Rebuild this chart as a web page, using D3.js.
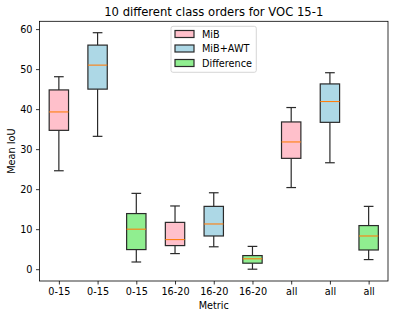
<!DOCTYPE html>
<html><head><meta charset="utf-8">
<script src="https://cdn.jsdelivr.net/npm/d3@7"></script>
<style>body{margin:0;background:#fff}svg{display:block}text{font-family:"DejaVu Sans",sans-serif;fill:#000}</style>
</head><body>
<svg id="c" width="395" height="318"></svg>
<script>
const categories = ["0-15","0-15","0-15","16-20","16-20","16-20","all","all","all"];
const series = ["MiB","MiB+AWT","Difference","MiB","MiB+AWT","Difference","MiB","MiB+AWT","Difference"];
const whiskerLow  = [24.6, 33.2, 1.8, 3.9, 5.6, 0.0, 20.4, 26.6, 2.4];
const q1          = [34.7, 45.0, 4.9, 5.9, 8.3, 1.5, 27.7, 36.7, 4.8];
const median      = [39.3, 51.0, 10.0, 7.4, 11.3, 2.6, 31.8, 41.9, 8.3];
const q3          = [44.8, 56.0, 13.9, 11.7, 15.7, 3.4, 36.8, 46.3, 10.9];
const whiskerHigh = [48.1, 59.1, 18.95, 15.8, 19.1, 5.7, 40.4, 49.1, 15.7];
const legendNames = ["MiB","MiB+AWT","Difference"];
const yTicks = [0,10,20,30,40,50,60];
const colors = {"MiB":"pink","MiB+AWT":"lightblue","Difference":"lightgreen"};

const svg = d3.select("#c");
const L=39.5, R=388, T=21.3, B=281;
const idx = d3.range(categories.length);
const x = d3.scaleLinear().domain([0.5, categories.length+0.5]).range([L,R]);
const y = d3.scaleLinear().domain([-2.95, 61.95]).range([B,T]);
const bw = x(1.25)-x(1), cw = x(1.125)-x(1);
const edge = "#2a2a2a";
const fs = 9.7;

const g = svg.append("g");
idx.forEach(i=>{
  const cx = x(i+1);
  g.append("line").attr("x1",cx).attr("x2",cx).attr("y1",y(whiskerLow[i])).attr("y2",y(q1[i])).attr("stroke",edge).attr("stroke-width",1.2);
  g.append("line").attr("x1",cx).attr("x2",cx).attr("y1",y(q3[i])).attr("y2",y(whiskerHigh[i])).attr("stroke",edge).attr("stroke-width",1.2);
  g.append("line").attr("x1",cx-cw).attr("x2",cx+cw).attr("y1",y(whiskerLow[i])).attr("y2",y(whiskerLow[i])).attr("stroke",edge).attr("stroke-width",1.2);
  g.append("line").attr("x1",cx-cw).attr("x2",cx+cw).attr("y1",y(whiskerHigh[i])).attr("y2",y(whiskerHigh[i])).attr("stroke",edge).attr("stroke-width",1.2);
  g.append("rect").attr("x",cx-bw).attr("width",2*bw).attr("y",y(q3[i])).attr("height",y(q1[i])-y(q3[i]))
    .attr("fill",colors[series[i]]).attr("stroke",edge).attr("stroke-width",1.2);
  g.append("line").attr("x1",cx-bw).attr("x2",cx+bw).attr("y1",y(median[i])).attr("y2",y(median[i])).attr("stroke","#ff7f0e").attr("stroke-width",1.1);
});

// axes
const ya = svg.append("g").attr("transform",`translate(${L},0)`)
  .call(d3.axisLeft(y).tickValues(yTicks).tickSize(3.5).tickPadding(3.5));
const xa = svg.append("g").attr("transform",`translate(0,${B})`)
  .call(d3.axisBottom(x).tickValues(idx.map(i=>i+1)).tickFormat(d=>categories[d-1]).tickSize(3.5).tickPadding(4));
[ya,xa].forEach(a=>{a.select(".domain").remove();a.selectAll("line").attr("stroke","#000").attr("stroke-width",0.8);a.selectAll("text").attr("font-size",fs).attr("font-family","DejaVu Sans");});
svg.append("rect").attr("x",L).attr("y",T).attr("width",R-L).attr("height",B-T).attr("fill","none").attr("stroke","#000").attr("stroke-width",0.8);

svg.append("text").attr("x",(L+R)/2).attr("y",16).attr("text-anchor","middle").attr("font-size",11.6).text("10 different class orders for VOC 15-1");
svg.append("text").attr("x",(L+R)/2).attr("y",308.5).attr("text-anchor","middle").attr("font-size",fs).text("Metric");
svg.append("text").attr("transform",`translate(14.5,${(T+B)/2}) rotate(-90)`).attr("text-anchor","middle").attr("font-size",fs).text("Mean IoU");

// legend
const lg = svg.append("g");
lg.append("rect").attr("x",171).attr("y",26.3).attr("width",85.3).attr("height",46).attr("rx",2).attr("fill","#fff").attr("fill-opacity",0.8).attr("stroke","#ccc").attr("stroke-width",0.8);
legendNames.forEach((n,i)=>{
  const yy = 34 + i*14.5;
  lg.append("rect").attr("x",175).attr("y",yy-3.5).attr("width",19).attr("height",7).attr("fill",colors[n]).attr("stroke",edge).attr("stroke-width",1.2);
  lg.append("text").attr("x",202).attr("y",yy+3.5).attr("font-size",fs).text(n);
});
</script>
</body></html>
